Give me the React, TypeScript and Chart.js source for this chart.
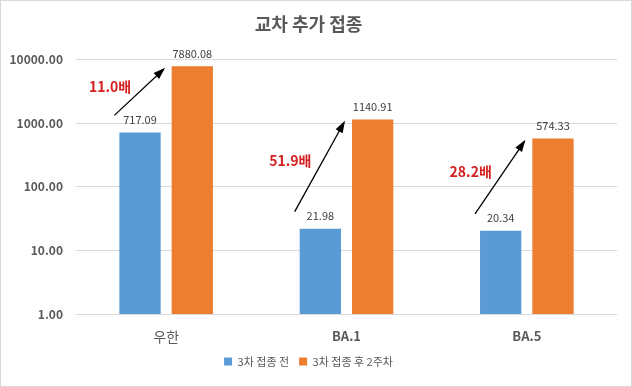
import React, { useEffect, useRef } from "react";
import { Chart, registerables } from "chart.js";

Chart.register(...registerables);

const categories = ["우한", "BA.1", "BA.5"];
const beforeValues = [717.09, 21.98, 20.34];
const afterValues = [7880.08, 1140.91, 574.33];
const foldLabels = ["11.0배", "51.9배", "28.2배"];
const yTicks = [1, 10, 100, 1000, 10000];
const seriesNames = ["3차 접종 전", "3차 접종 후 2주차"];

const FONT = "'Noto Sans CJK KR', 'Noto Sans', sans-serif";

const overlayPlugin = {
  id: "overlay",
  beforeDraw(chart: any) {
    const { ctx, width, height } = chart;
    ctx.save();
    ctx.fillStyle = "#ffffff";
    ctx.fillRect(0, 0, width, height);
    ctx.strokeStyle = "#d9d9d9";
    ctx.lineWidth = 1;
    ctx.strokeRect(0.5, 0.5, width - 1, height - 1);
    ctx.restore();
  },
  afterDatasetsDraw(chart: any) {
    const { ctx } = chart;
    const m0 = chart.getDatasetMeta(0);
    const m1 = chart.getDatasetMeta(1);
    ctx.save();
    // value labels
    ctx.font = `11px ${FONT}`;
    ctx.fillStyle = "#404040";
    ctx.textAlign = "center";
    ctx.textBaseline = "bottom";
    [m0, m1].forEach((meta: any, di: number) => {
      const vals = di === 0 ? beforeValues : afterValues;
      meta.data.forEach((bar: any, i: number) => {
        ctx.fillText(vals[i].toFixed(2), bar.x, bar.y - 7);
      });
    });
    // arrows + fold labels
    categories.forEach((_, i) => {
      const b = m0.data[i];
      const o = m1.data[i];
      const bl = b.x - b.width / 2;
      const ol = o.x - o.width / 2;
      const x1 = bl - 5;
      const y1 = b.y - 17;
      const x2 = ol - 8;
      const y2 = o.y + 3;
      ctx.strokeStyle = "#000000";
      ctx.fillStyle = "#000000";
      ctx.lineWidth = 1.3;
      ctx.beginPath();
      ctx.moveTo(x1, y1);
      ctx.lineTo(x2, y2);
      ctx.stroke();
      const ang = Math.atan2(y2 - y1, x2 - x1);
      const hl = 10;
      const hw = 4;
      ctx.beginPath();
      ctx.moveTo(x2 + 2 * Math.cos(ang), y2 + 2 * Math.sin(ang));
      ctx.lineTo(
        x2 - hl * Math.cos(ang) + hw * Math.sin(ang),
        y2 - hl * Math.sin(ang) - hw * Math.cos(ang)
      );
      ctx.lineTo(
        x2 - hl * Math.cos(ang) - hw * Math.sin(ang),
        y2 - hl * Math.sin(ang) + hw * Math.cos(ang)
      );
      ctx.closePath();
      ctx.fill();
      const mx = (x1 + x2) / 2;
      const my = (y1 + y2) / 2;
      ctx.font = `bold 14px ${FONT}`;
      ctx.fillStyle = "#d42020";
      ctx.textAlign = "center";
      ctx.textBaseline = "middle";
      ctx.fillText(foldLabels[i], mx - 29, my - 6);
    });
    ctx.restore();
  },
};

export default function App() {
  const ref = useRef<HTMLCanvasElement | null>(null);
  useEffect(() => {
    if (!ref.current) return;
    const chart = new Chart(ref.current, {
      type: "bar",
      data: {
        labels: categories,
        datasets: [
          {
            label: seriesNames[0],
            data: beforeValues,
            backgroundColor: "#5b9bd5",
            categoryPercentage: 0.58,
            barPercentage: 0.79,
          },
          {
            label: seriesNames[1],
            data: afterValues,
            backgroundColor: "#ed7d31",
            categoryPercentage: 0.58,
            barPercentage: 0.79,
          },
        ],
      },
      options: {
        animation: false,
        responsive: false,
        devicePixelRatio: 1,
        layout: { padding: { left: 0, right: 15, top: 0, bottom: 10 } },
        plugins: {
          title: {
            display: true,
            text: "교차 추가 접종",
            color: "#595959",
            font: { family: FONT, size: 18, weight: "bold" },
            padding: { top: 13, bottom: 25 },
          },
          legend: {
            position: "bottom",
            labels: {
              boxWidth: 8,
              boxHeight: 8,
              padding: 10,
              color: "#595959",
              font: { family: FONT, size: 11 },
            },
          },
          tooltip: { enabled: false },
        },
        scales: {
          x: {
            grid: { display: false },
            border: { display: false },
            ticks: {
              color: "#595959",
              padding: 6,
              font: (c: any) =>
                c.index === 0
                  ? { family: FONT, size: 14, weight: "normal" }
                  : { family: FONT, size: 13, weight: "bold" },
            },
            afterFit: (s: any) => {
              s.height = 32;
            },
          },
          y: {
            type: "logarithmic",
            min: 1,
            max: 10000,
            grid: { color: "#d9d9d9", drawTicks: false },
            border: { display: false },
            afterBuildTicks: (s: any) => {
              s.ticks = yTicks.map((v) => ({ value: v }));
            },
            afterFit: (s: any) => {
              s.width = 76;
            },
            ticks: {
              color: "#595959",
              padding: 13,
              font: { family: FONT, size: 12, weight: "bold" },
              callback: (v: any) => Number(v).toFixed(2),
            },
          },
        },
      },
      plugins: [overlayPlugin],
    });
    return () => chart.destroy();
  }, []);
  return (
    <div style={{ position: "fixed", left: 0, top: 0, width: 632, height: 387 }}>
      <canvas ref={ref} width={632} height={387} style={{ display: "block" }} />
    </div>
  );
}
